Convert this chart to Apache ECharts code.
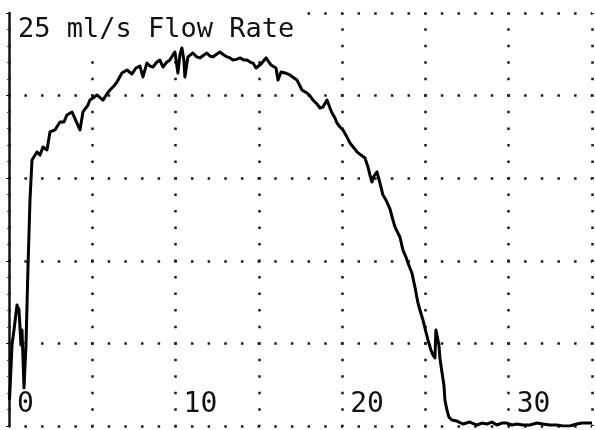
<!DOCTYPE html>
<html>
<head>
<meta charset="utf-8">
<script src="https://cdn.jsdelivr.net/npm/echarts@6/dist/echarts.min.js"></script>
<style>
html,body{margin:0;padding:0;background:#fff;}
#chart{width:595px;height:430px;}
</style>
</head>
<body>
<div id="chart"></div>
<script>
// ---- data ----
const titleText = '25 ml/s Flow Rate';
const xTickLabels = [0, 10, 20, 30];
const timeSec = [
  0.03, 0.06, 0.18, 0.30, 0.48, 0.60, 0.72, 0.78, 0.90, 1.02, 1.14, 1.26, 1.38, 1.68, 1.86, 2.04, 2.28, 2.46, 2.76, 3.06,
  3.30, 3.48, 3.78, 4.08, 4.26, 4.44, 4.74, 4.86, 5.04, 5.28, 5.64, 5.88, 6.06, 6.30, 6.48, 6.78, 7.08, 7.38, 7.62, 7.86,
  8.04, 8.28, 8.46, 8.64, 8.88, 9.06, 9.24, 9.48, 9.66, 9.84, 9.96, 10.14, 10.26, 10.38, 10.50, 10.56, 10.74, 11.04, 11.28, 11.46,
  11.70, 11.88, 12.06, 12.24, 12.48, 12.66, 12.90, 13.09, 13.27, 13.45, 13.69, 13.87, 14.11, 14.29, 14.47, 14.65, 14.83, 14.95, 15.13, 15.25,
  15.43, 15.55, 15.73, 15.85, 16.03, 16.15, 16.33, 16.57, 16.87, 17.11, 17.29, 17.47, 17.59, 17.89, 18.07, 18.25, 18.49, 18.67, 18.85, 19.09,
  19.27, 19.39, 19.57, 19.69, 19.87, 20.05, 20.29, 20.47, 20.71, 20.89, 21.13, 21.37, 21.55, 21.67, 21.79, 21.91, 22.09, 22.27, 22.45, 22.63,
  22.87, 23.05, 23.17, 23.35, 23.47, 23.65, 23.83, 23.95, 24.07, 24.19, 24.37, 24.55, 24.67, 24.85, 25.03, 25.15, 25.33, 25.45, 25.57, 25.63,
  25.75, 25.81, 25.87, 25.99, 26.11, 26.17, 26.29, 26.41, 26.59, 26.89, 27.25, 27.67, 28.09, 28.39, 28.69, 28.99, 29.29, 29.59, 29.89, 30.19,
  30.49, 30.85, 31.27, 31.69, 32.05, 32.47, 32.89, 33.25, 33.67, 34.09, 34.39, 35.00
];
const flowRate = [
  1.57, 2.18, 4.90, 5.81, 7.32, 7.02, 4.90, 5.81, 2.30, 4.90, 9.62, 13.68, 16.10, 16.59, 16.40, 16.89, 16.71, 17.80, 17.92, 18.40,
  18.40, 18.83, 19.01, 18.34, 17.92, 19.01, 19.43, 19.73, 19.85, 20.04, 19.73, 20.10, 20.34, 20.58, 20.82, 21.37, 21.55, 21.31, 21.67, 21.79,
  21.13, 21.97, 21.79, 21.73, 22.03, 22.15, 21.73, 22.03, 22.15, 22.46, 22.64, 21.37, 22.46, 22.88, 22.15, 21.13, 22.34, 22.58, 22.34, 22.28,
  22.46, 22.58, 22.40, 22.34, 22.52, 22.64, 22.46, 22.34, 22.28, 22.15, 22.21, 22.28, 22.15, 22.15, 22.03, 21.97, 21.67, 21.55, 21.91, 21.97,
  22.28, 22.34, 21.85, 21.73, 21.67, 20.94, 21.43, 21.37, 21.25, 21.07, 20.94, 20.58, 20.34, 20.16, 19.98, 19.73, 19.49, 19.25, 19.31, 19.73,
  19.25, 18.95, 18.64, 18.34, 18.10, 17.92, 17.49, 17.13, 16.83, 16.59, 16.40, 16.22, 15.68, 15.19, 14.77, 15.13, 15.38, 14.71, 13.98, 13.68,
  13.14, 12.47, 12.05, 11.68, 11.44, 10.65, 10.23, 9.87, 9.56, 9.26, 8.41, 7.45, 7.02, 6.42, 5.69, 5.21, 4.60, 4.30, 4.12, 5.81,
  5.93, 4.90, 4.12, 3.27, 2.48, 1.57, 0.97, 0.54, 0.36, 0.30, 0.12, 0.24, 0.06, 0.18, 0.12, 0.24, 0.06, 0.18, 0.18, 0.06,
  0.12, 0.06, 0.06, 0.18, 0.12, 0.06, 0.06, 0.00, 0.00, 0.12, 0.18, 0.18
];
const xMin = 0, xMax = 35, xStep = 5;
const yMin = 0, yMax = 25, yStep = 5;

// ---- chart ----
const points = timeSec.map((t, i) => [t, flowRate[i]]);
const chart = echarts.init(document.getElementById('chart'), null, {renderer: 'canvas'});
const mono = '"DejaVu Sans Mono", "Liberation Mono", monospace';
const dotColor = '#1a1a1a';

chart.setOption({
  animation: false,
  backgroundColor: '#ffffff',
  title: {
    text: titleText,
    left: 11,
    top: 0,
    z: 1,
    backgroundColor: '#ffffff',
    padding: [16, 7, 5, 7],
    textStyle: {fontFamily: mono, fontSize: 27, fontWeight: 'normal', color: '#111'}
  },
  grid: {left: 9, right: 3, top: 13, bottom: 4, containLabel: false},
  xAxis: {
    type: 'value',
    min: xMin, max: xMax, interval: xStep,
    axisLine: {show: false},
    axisTick: {show: false},
    axisLabel: {
      inside: true,
      align: 'left',
      verticalAlign: 'bottom',
      margin: 7,
      padding: [0, 0, 0, 8],
      fontFamily: mono,
      fontSize: 28,
      color: '#111',
      formatter: v => (xTickLabels.indexOf(v) >= 0 ? String(v) : '')
    },
    splitLine: {
      show: true,
      lineStyle: {color: dotColor, width: 2.5, type: [2.5, 14.02], dashOffset: 1.25}
    }
  },
  yAxis: {
    type: 'value',
    min: yMin, max: yMax, interval: yStep,
    axisLine: {show: true, onZero: false, lineStyle: {color: '#111', width: 2.5}},
    axisTick: {show: true, length: 3, lineStyle: {color: '#111', width: 1}},
    minorTick: {show: true, splitNumber: 5, length: 2, lineStyle: {color: '#555', width: 1}},
    axisLabel: {show: false},
    splitLine: {
      show: true,
      lineStyle: {color: dotColor, width: 2.5, type: [2.5, 14.157], dashOffset: 1.25}
    }
  },
  series: [{
    type: 'line',
    data: points,
    showSymbol: false,
    smooth: false,
    z: 3,
    lineStyle: {color: '#000', width: 3, join: 'round'}
  }]
});
</script>
</body>
</html>
